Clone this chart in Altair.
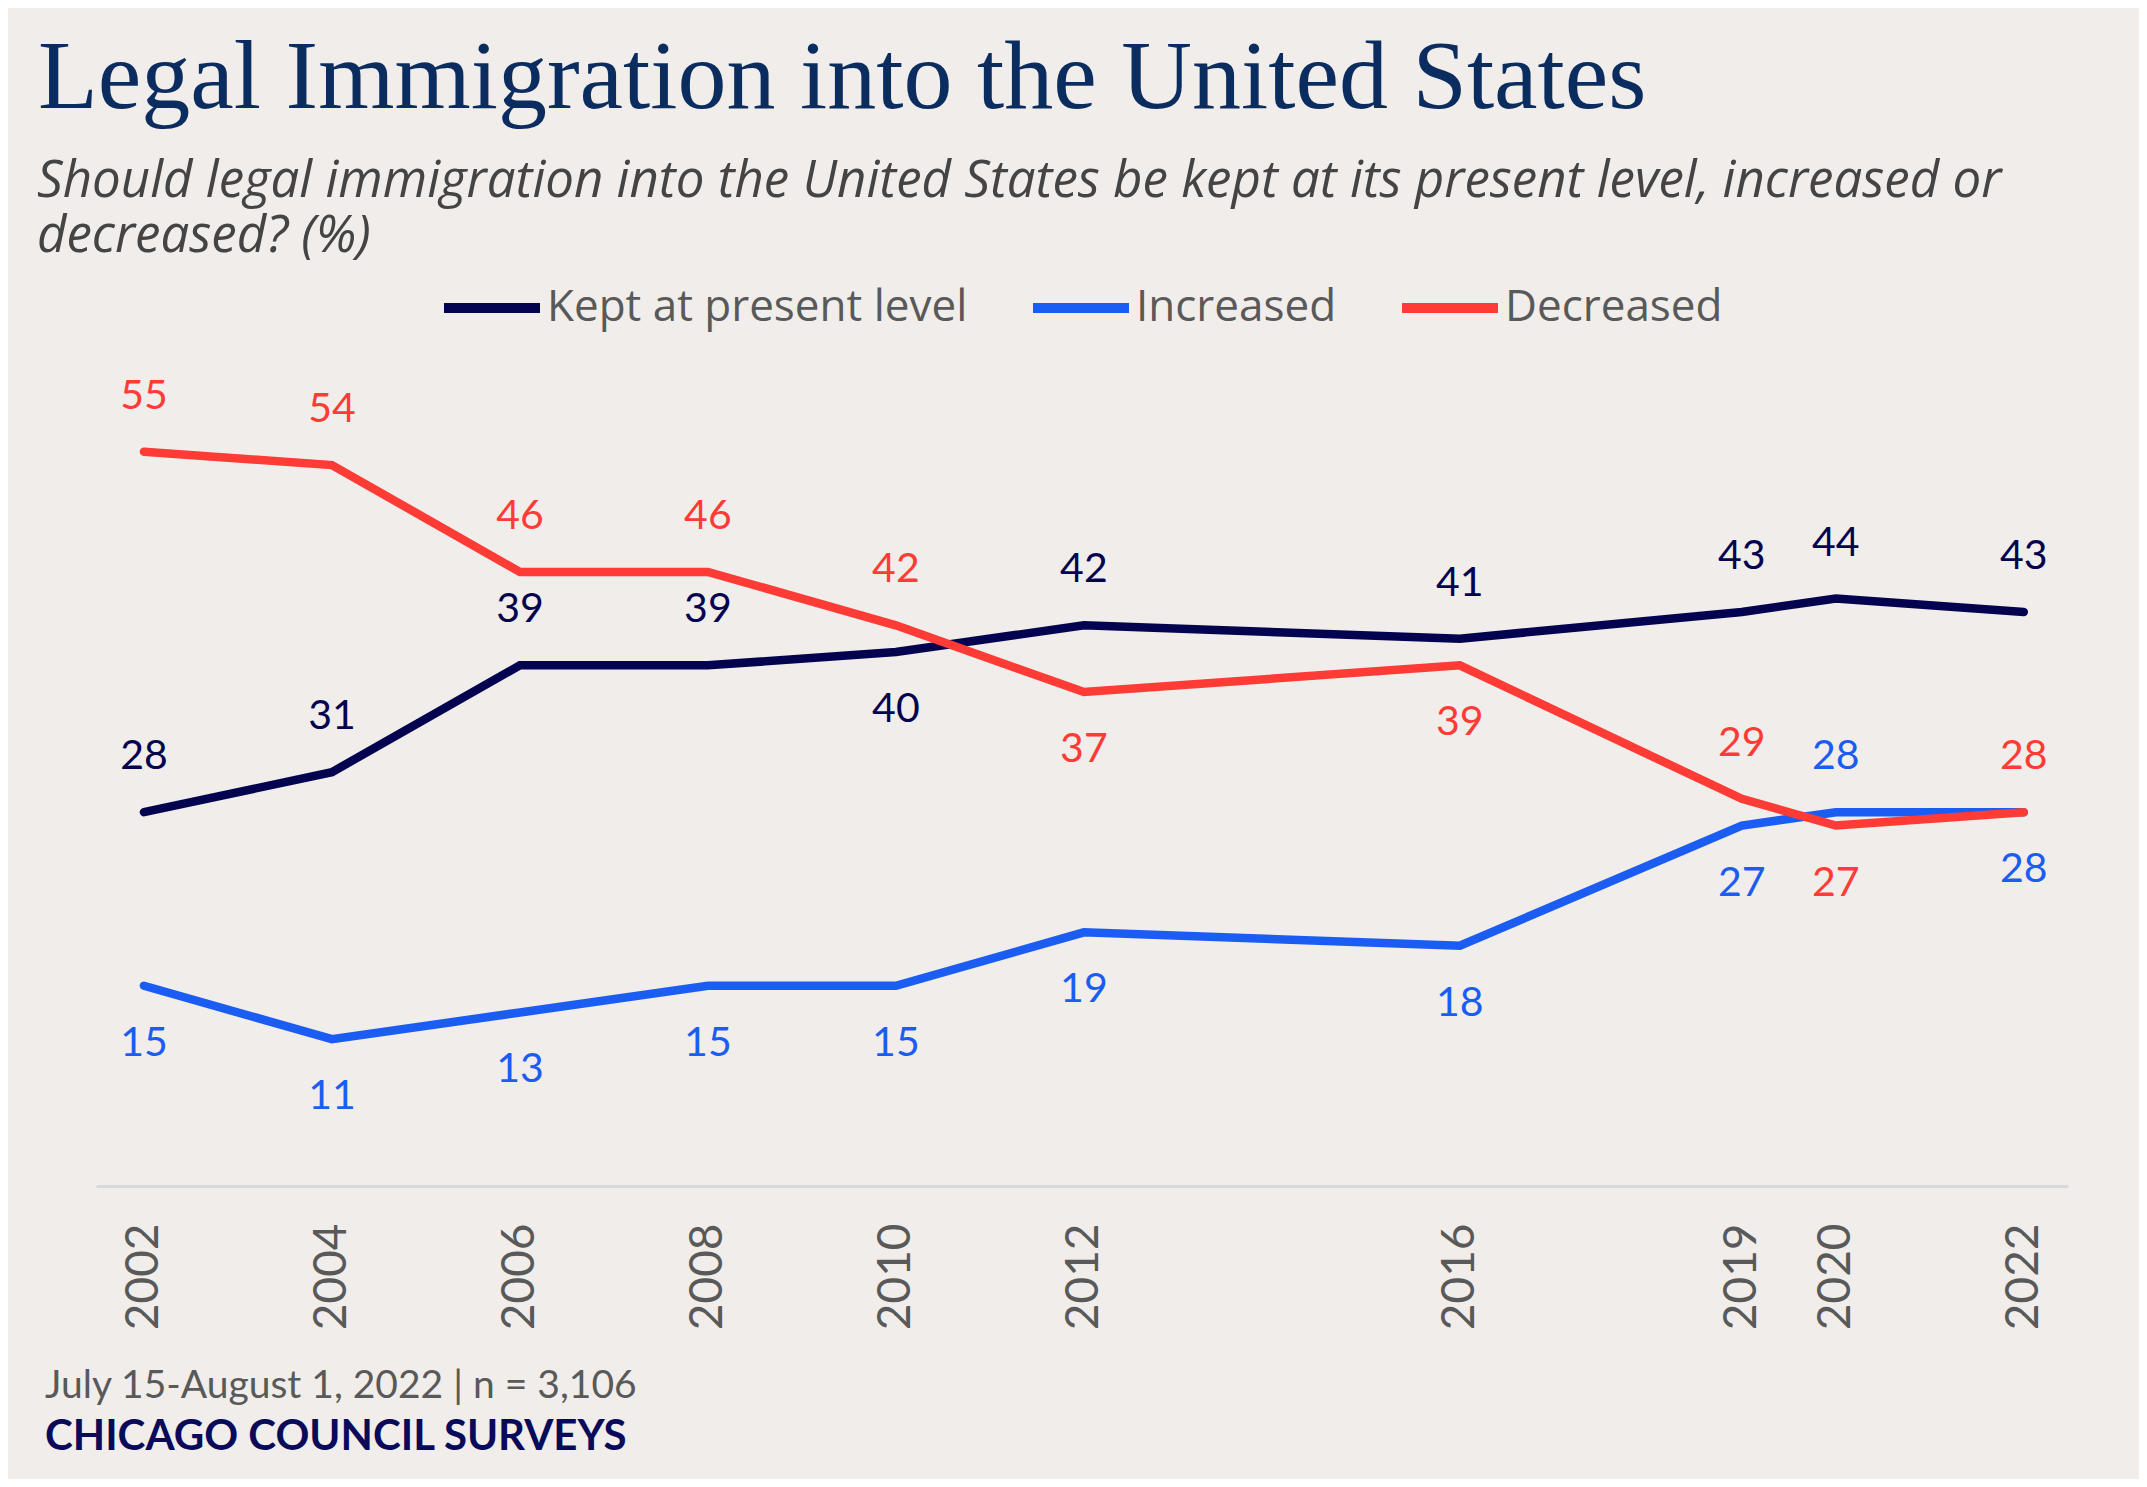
import altair as alt
import pandas as pd

# ---- data ----
years = [2002, 2004, 2006, 2008, 2010, 2012, 2016, 2019, 2020, 2022]
kept = [28, 31, 39, 39, 40, 42, 41, 43, 44, 43]
increased = [15, 11, 13, 15, 15, 19, 18, 27, 28, 28]
decreased = [55, 54, 46, 46, 42, 37, 39, 29, 27, 28]
kept_pos = ["above", "above", "above", "above", "below", "above", "above", "above", "above", "above"]
increased_pos = ["below", "below", "below", "below", "below", "below", "below", "below", "above", "below"]
decreased_pos = ["above", "above", "above", "above", "above", "below", "below", "above", "below", "above"]

series_names = ["Kept at present level", "Increased", "Decreased"]
series_colors = ["#04034f", "#1b5cf2", "#ff3b36"]
tick_years = years

title_text = "Legal Immigration into the United States"
subtitle_text = ("Should legal immigration into the United States be kept at its present level, increased or\n"
                 "decreased? (%)")
footer_text = "July 15-August 1, 2022 | n = 3,106"
source_text = "CHICAGO COUNCIL SURVEYS"

rows = []
for name, vals, pos in zip(series_names, [kept, increased, decreased],
                           [kept_pos, increased_pos, decreased_pos]):
    for y, v, p in zip(years, vals, pos):
        rows.append({"year": y, "value": v, "series": name, "pos": p})
df = pd.DataFrame(rows)

W, H = 1972, 801

x_enc = alt.X("year:Q",
              scale=alt.Scale(domain=[2001.49, 2022.47], nice=False, zero=False),
              axis=alt.Axis(values=tick_years, format="d", title=None, labelAngle=-90,
                            labelFontSize=46, labelFont="Lato", labelColor="#595959",
                            labelPadding=37, ticks=False, grid=False,
                            domainColor="#d9d9d9", domainWidth=3))
y_enc = alt.Y("value:Q", scale=alt.Scale(domain=[0, 60], nice=False), axis=None)
color_enc = alt.Color("series:N",
                      scale=alt.Scale(domain=series_names, range=series_colors),
                      legend=alt.Legend(title=None, orient="none", legendX=343, legendY=-130,
                                        direction="horizontal", columns=3,
                                        symbolType="stroke", symbolSize=9216,
                                        symbolStrokeWidth=10, labelFontSize=44,
                                        labelFont="Open Sans", labelColor="#595959",
                                        labelOffset=2, columnPadding=45,
                                        labelLimit=700))

base = alt.Chart(df)

lines = base.mark_line(strokeWidth=8.5, strokeCap="round").encode(
    x=x_enc, y=y_enc, color=color_enc, detail="series:N")

text_color = alt.Color("series:N", scale=alt.Scale(domain=series_names, range=series_colors),
                       legend=None)

labels_above = base.transform_filter(alt.datum.pos == "above").mark_text(
    dy=-55, fontSize=41, font="Lato", baseline="middle", align="center").encode(
    x="year:Q", y="value:Q", text="value:Q", color=text_color)

labels_below = base.transform_filter(alt.datum.pos == "below").mark_text(
    dy=58, fontSize=41, font="Lato", baseline="middle", align="center").encode(
    x="year:Q", y="value:Q", text="value:Q", color=text_color)

one = pd.DataFrame({"t": [0]})

title = alt.Chart(one).mark_text(
    text=title_text, font="Liberation Serif", fontSize=98, color="#0b2c5f",
    align="left", baseline="alphabetic").encode(x=alt.value(-58), y=alt.value(-277))

subtitle = alt.Chart(one).mark_text(
    text=subtitle_text, lineBreak="\n", lineHeight=55, font="Open Sans", fontStyle="italic",
    fontSize=51, color="#444444", align="left", baseline="alphabetic").encode(
    x=alt.value(-59), y=alt.value(-188))

footer = alt.Chart(one).mark_text(
    text=footer_text, font="Lato", fontSize=39, color="#595959",
    align="left", baseline="alphabetic").encode(x=alt.value(-51), y=alt.value(1013))

source = alt.Chart(one).mark_text(
    text=source_text, font="Lato", fontSize=42, fontWeight="bold", color="#0a0a5a",
    align="left", baseline="alphabetic").encode(x=alt.value(-51), y=alt.value(1065))

chart = alt.layer(lines, labels_above, labels_below, title, subtitle, footer, source).properties(
    width=W, height=H,
    padding={"left": 88, "top": 377, "right": 71, "bottom": 293},
    autosize=alt.AutoSizeParams(type="none"),
).configure(background="#f0edea").configure_view(stroke=None)

chart.save("out.html", embed_options={"renderer": "svg", "actions": False})
